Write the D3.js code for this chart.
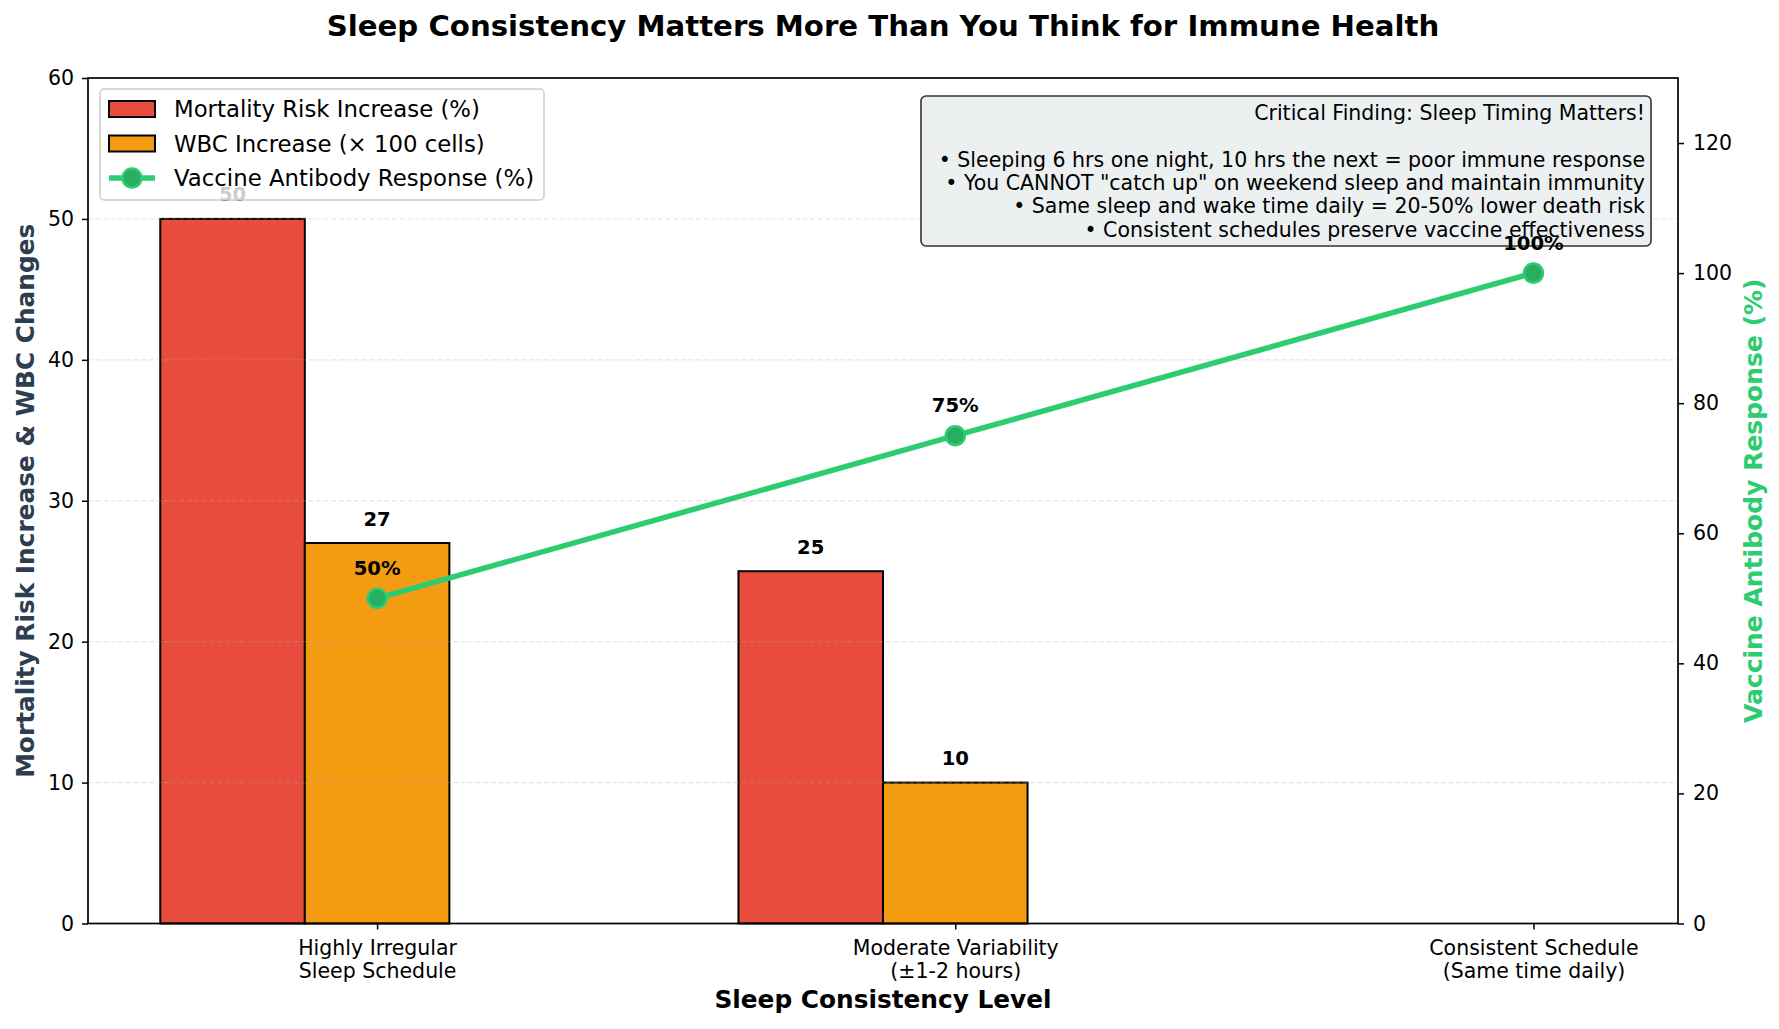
<!DOCTYPE html>
<html>
<head>
<meta charset="utf-8">
<script src="https://cdn.jsdelivr.net/npm/d3@7"></script>
<style>
  html, body { margin: 0; padding: 0; background: #ffffff; }
  svg { display: block; font-family: "DejaVu Sans", sans-serif; }
</style>
</head>
<body>
<svg id="chart" width="1779" height="1029"></svg>
<script>
// ---------- data ----------
const categories = [
  ["Highly Irregular", "Sleep Schedule"],
  ["Moderate Variability", "(±1-2 hours)"],
  ["Consistent Schedule", "(Same time daily)"]
];
const mortalityRisk = [50, 25, 0];
const wbcIncrease = [27, 10, 0];
const antibodyResponse = [50, 75, 100];
const leftTicks = [0, 10, 20, 30, 40, 50, 60];
const rightTicks = [0, 20, 40, 60, 80, 100, 120];
const seriesNames = ["Mortality Risk Increase (%)", "WBC Increase (× 100 cells)", "Vaccine Antibody Response (%)"];
const titleText = "Sleep Consistency Matters More Than You Think for Immune Health";
const xLabelText = "Sleep Consistency Level";
const yLabelText = "Mortality Risk Increase & WBC Changes";
const y2LabelText = "Vaccine Antibody Response (%)";
const noteLines = [
  "Critical Finding: Sleep Timing Matters!",
  "",
  "• Sleeping 6 hrs one night, 10 hrs the next = poor immune response",
  "• You CANNOT \"catch up\" on weekend sleep and maintain immunity",
  "• Same sleep and wake time daily = 20-50% lower death risk",
  "• Consistent schedules preserve vaccine effectiveness"
];

// ---------- layout ----------
const L = 88, R = 1678, T = 78, B = 923.5;
const barW = 0.25;
const colRed = "#e74c3c", colOrange = "#f39c12", colGreen = "#2ecc71", colGreenDark = "#27ae60";

const svg = d3.select("#chart");
const x = d3.scaleLinear().domain([-0.5, 2.25]).range([L, R]);
const y = d3.scaleLinear().domain([0, 60]).range([B, T]);
const y2 = d3.scaleLinear().domain([0, 130]).range([B, T]);

// bars
const idx = d3.range(categories.length);
svg.append("g").selectAll("rect")
  .data(idx.filter(i => mortalityRisk[i] > 0))
  .join("rect")
  .attr("x", i => x(i - barW - barW / 2))
  .attr("width", i => x(barW) - x(0))
  .attr("y", i => y(mortalityRisk[i]))
  .attr("height", i => y(0) - y(mortalityRisk[i]))
  .attr("fill", colRed).attr("stroke", "#000").attr("stroke-width", 2);

svg.append("g").selectAll("rect")
  .data(idx.filter(i => wbcIncrease[i] > 0))
  .join("rect")
  .attr("x", i => x(i - barW / 2))
  .attr("width", i => x(barW) - x(0))
  .attr("y", i => y(wbcIncrease[i]))
  .attr("height", i => y(0) - y(wbcIncrease[i]))
  .attr("fill", colOrange).attr("stroke", "#000").attr("stroke-width", 2);

// grid (left axis), drawn above bars with transparency
svg.append("g").selectAll("line")
  .data(leftTicks.filter(t => t > 0 && t < 60))
  .join("line")
  .attr("x1", L).attr("x2", R)
  .attr("y1", d => y(d)).attr("y2", d => y(d))
  .attr("stroke", "#b0b0b0").attr("stroke-opacity", 0.3)
  .attr("stroke-width", 1.3).attr("stroke-dasharray", "5,2.6");

// axes
const axL = svg.append("g").attr("transform", `translate(${L},0)`)
  .call(d3.axisLeft(y).tickValues(leftTicks).tickSize(6).tickPadding(8));
const axR = svg.append("g").attr("transform", `translate(${R},0)`)
  .call(d3.axisRight(y2).tickValues(rightTicks).tickSize(6).tickPadding(9));
const axB = svg.append("g").attr("transform", `translate(0,${B})`)
  .call(d3.axisBottom(x).tickValues(idx).tickSize(6).tickFormat(""));
[axL, axR, axB].forEach(a => {
  a.select(".domain").remove();
  a.selectAll(".tick line").attr("stroke", "#000").attr("stroke-width", 1.5);
  a.selectAll(".tick text").attr("font-size", 20.5).attr("fill", "#000")
    .attr("font-family", "DejaVu Sans");
});
// x tick labels (two lines)
axB.selectAll(".tick").each(function(d) {
  const t = d3.select(this).append("text").attr("fill", "#000")
    .attr("font-size", 20.5).attr("text-anchor", "middle").attr("font-family", "DejaVu Sans");
  categories[d].forEach((line, k) => {
    t.append("tspan").attr("x", 0).attr("y", 31.5 + k * 22.5).text(line);
  });
});

// spines
svg.append("rect").attr("x", L).attr("y", T).attr("width", R - L).attr("height", B - T)
  .attr("fill", "none").attr("stroke", "#000").attr("stroke-width", 1.7);

// annotation box
const noteBox = svg.append("g");
noteBox.append("rect").attr("x", 921).attr("y", 96).attr("width", 730).attr("height", 150)
  .attr("rx", 5).attr("fill", "#ecf0f1").attr("stroke", "#333").attr("stroke-width", 1.6);
noteBox.append("g").selectAll("text").data(noteLines).join("text")
  .attr("x", 1645).attr("y", (d, k) => 120 + k * 23.3)
  .attr("text-anchor", "end").attr("font-size", 20.5).attr("fill", "#000")
  .text(d => d);

// antibody line
const line = d3.line().x((d, i) => x(i)).y(d => y2(d));
svg.append("path").datum(antibodyResponse).attr("d", line)
  .attr("fill", "none").attr("stroke", colGreen).attr("stroke-width", 5.5)
  .attr("stroke-linejoin", "round");
svg.append("g").selectAll("circle").data(antibodyResponse).join("circle")
  .attr("cx", (d, i) => x(i)).attr("cy", d => y2(d)).attr("r", 9.5)
  .attr("fill", colGreenDark).attr("stroke", colGreen).attr("stroke-width", 2.5);

// value labels
const lab = svg.append("g").attr("font-weight", "bold").attr("font-size", 19.6)
  .attr("text-anchor", "middle").attr("fill", "#000");
idx.filter(i => mortalityRisk[i] > 0).forEach(i => {
  lab.append("text").attr("x", x(i - barW)).attr("y", y(mortalityRisk[i]) - 17.5).text(mortalityRisk[i]);
});
idx.filter(i => wbcIncrease[i] > 0).forEach(i => {
  lab.append("text").attr("x", x(i)).attr("y", y(wbcIncrease[i]) - 17.5).text(wbcIncrease[i]);
});
antibodyResponse.forEach((v, i) => {
  lab.append("text").attr("x", x(i)).attr("y", y2(v) - 23.5).text(v + "%");
});

// legend
const lg = svg.append("g");
lg.append("rect").attr("x", 100).attr("y", 89).attr("width", 444).attr("height", 111)
  .attr("rx", 4).attr("fill", "#fff").attr("fill-opacity", 0.8)
  .attr("stroke", "#cccccc").attr("stroke-width", 1.5);
const rowY = [109, 143.5, 178];
lg.append("rect").attr("x", 109).attr("y", rowY[0] - 8).attr("width", 46).attr("height", 16)
  .attr("fill", colRed).attr("stroke", "#000").attr("stroke-width", 2);
lg.append("rect").attr("x", 109).attr("y", rowY[1] - 8).attr("width", 46).attr("height", 16)
  .attr("fill", colOrange).attr("stroke", "#000").attr("stroke-width", 2);
lg.append("line").attr("x1", 109).attr("x2", 155).attr("y1", rowY[2]).attr("y2", rowY[2])
  .attr("stroke", colGreen).attr("stroke-width", 5.5);
lg.append("circle").attr("cx", 132).attr("cy", rowY[2]).attr("r", 9.5)
  .attr("fill", colGreenDark).attr("stroke", colGreen).attr("stroke-width", 2.5);
seriesNames.forEach((s, k) => {
  lg.append("text").attr("x", 174).attr("y", rowY[k] + 8.3).attr("font-size", 22.8)
    .attr("fill", "#000").text(s);
});

// titles
svg.append("text").attr("x", (L + R) / 2).attr("y", 36).attr("text-anchor", "middle")
  .attr("font-size", 29.2).attr("font-weight", "bold").attr("fill", "#000").text(titleText);
svg.append("text").attr("x", (L + R) / 2).attr("y", 1008).attr("text-anchor", "middle")
  .attr("font-size", 24.8).attr("font-weight", "bold").attr("fill", "#000").text(xLabelText);
svg.append("text").attr("transform", `translate(33.5,${(T + B) / 2}) rotate(-90)`)
  .attr("text-anchor", "middle").attr("font-size", 24.8).attr("font-weight", "bold")
  .attr("fill", "#2c3e50").text(yLabelText);
svg.append("text").attr("transform", `translate(1761.5,${(T + B) / 2}) rotate(-90)`)
  .attr("text-anchor", "middle").attr("font-size", 25).attr("font-weight", "bold")
  .attr("fill", colGreen).text(y2LabelText);
</script>
</body>
</html>
